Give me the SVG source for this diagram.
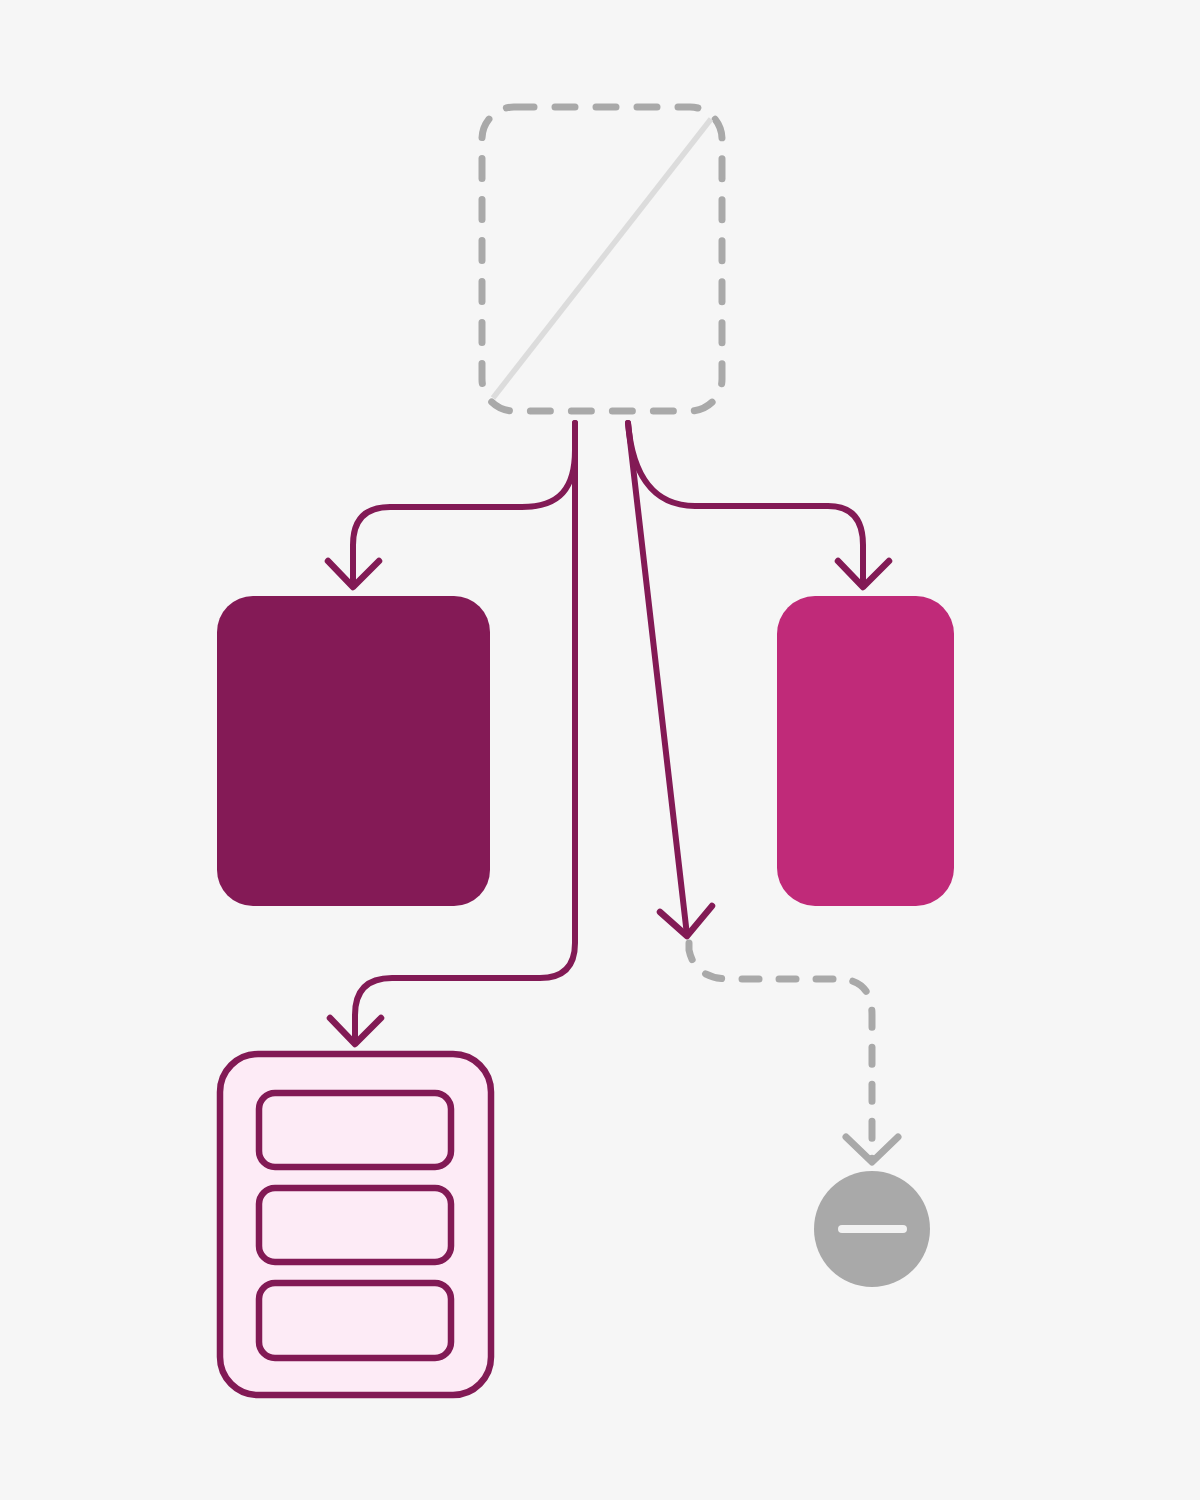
<svg xmlns="http://www.w3.org/2000/svg" width="1200" height="1500" viewBox="0 0 1200 1500">
<style>
.conn{fill:none;stroke:#821a55;stroke-width:6;stroke-linecap:round;stroke-linejoin:round}
.dash{fill:none;stroke:#a9a9a9;stroke-width:7;stroke-linecap:round;stroke-linejoin:round;stroke-dasharray:17 20}
.head{fill:none;stroke:#821a55;stroke-width:6.5;stroke-linecap:round;stroke-linejoin:round}
.headg{fill:none;stroke:#a9a9a9;stroke-width:7;stroke-linecap:round;stroke-linejoin:round}
.inner{fill:#fdebf6;stroke:#821a55;stroke-width:6.5}
</style>
<rect width="1200" height="1500" fill="#f6f6f6"/>
<g id="start">
<rect x="482" y="107" width="240" height="304" rx="32" fill="none" stroke="#a9a9a9" stroke-width="7" stroke-linecap="round" stroke-dasharray="20 21"/>
<line x1="493" y1="398" x2="711" y2="119" stroke="#dcdcdc" stroke-width="5.5"/>
</g>
<g id="connectors">
<path class="conn" d="M575 423 L575 450 C575 488 560 507 522 507 L390 507 Q353 507 353 545 L353 586"/>
<polyline class="head" points="328,561 353,587 379,561"/>
<path class="conn" d="M575 423 L575 943 Q575 978 540 978 L392 978 Q355 978 355 1015 L355 1043"/>
<polyline class="head" points="330,1018 355,1044 381,1018"/>
<path class="conn" d="M628 423 C632 470 650 506 695 506 L828 506 Q863 506 863 545 L863 586"/>
<polyline class="head" points="838,561 863,587 889,561"/>
<path class="conn" d="M628 423 L687 935"/>
<polyline class="head" points="660,912 687,936 712,906"/>
<path class="dash" d="M689 943 L689 950 Q695 979 730 979 L838 979 Q872 979 872 1015 L872 1160"/>
<polyline class="headg" points="846,1137 872,1162 898,1137"/>
</g>
<g id="nodeA">
<rect x="217" y="596" width="273" height="310" rx="36" fill="#841a56"/>
</g>
<g id="nodeB">
<rect x="777" y="596" width="177" height="310" rx="38" fill="#c02a79"/>
</g>
<g id="nodeC">
<rect x="220" y="1054" width="271" height="341" rx="38" fill="#fdebf6" stroke="#821a55" stroke-width="6.5"/>
<rect class="inner" x="259" y="1093" width="192" height="74" rx="16"/>
<rect class="inner" x="259" y="1188" width="192" height="74" rx="16"/>
<rect class="inner" x="259" y="1283" width="192" height="75" rx="16"/>
</g>
<g id="end">
<circle cx="872" cy="1229" r="58" fill="#a9a9a9"/>
<line x1="842" y1="1229" x2="903" y2="1229" stroke="#f2f2f2" stroke-width="8" stroke-linecap="round"/>
</g>
</svg>
